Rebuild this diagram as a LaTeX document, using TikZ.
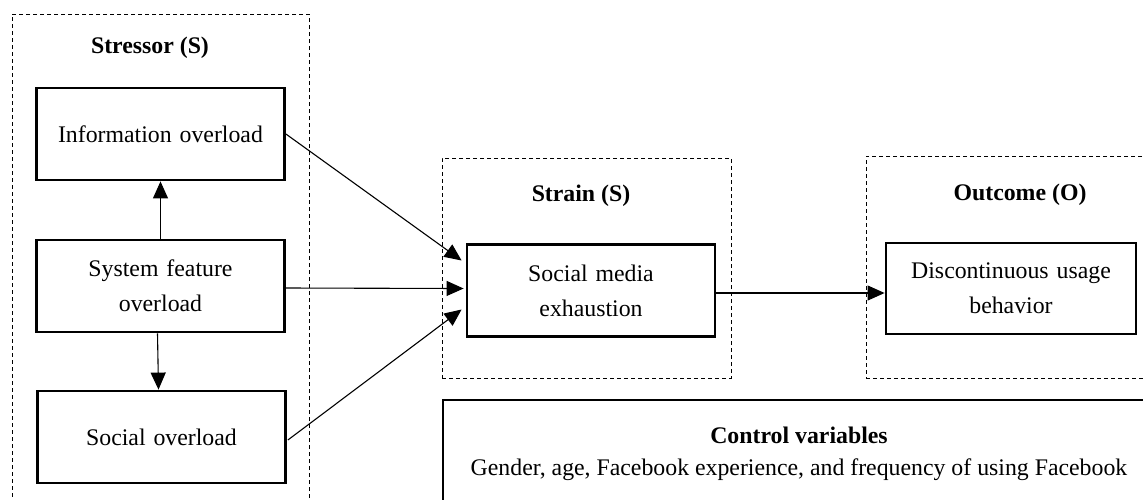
\documentclass[tikz,border=0pt]{standalone}
\usepackage{fontspec}
\setmainfont{Liberation Serif}
\usetikzlibrary{arrows.meta,calc}
\begin{document}
\begin{tikzpicture}[x=1pt,y=-1pt,
  font=\fontsize{23.8}{35}\selectfont,
  group/.style={draw,dashed,dash pattern=on 4pt off 3pt,line width=0.9pt,inner sep=0pt},
  varbox/.style={draw,line width=2.8pt,inner sep=0pt,align=center,text width=240pt},
  ctrlbox/.style={draw,line width=2pt,inner sep=0pt},
  title/.style={font=\fontsize{23.8}{35}\selectfont\bfseries,inner sep=0pt},
  link/.style={line width=1.1pt,-{Triangle[length=17pt,width=15pt]}}]
\useasboundingbox (0,0) rectangle (1143,499);
\clip (0,0) rectangle (1143,499);
% groups
\node[group,minimum width=297pt,minimum height=530pt] (gS) at (160.5,279) {};
\node[group,minimum width=289pt,minimum height=220pt] (gT) at (586.5,268) {};
\node[group,minimum width=300pt,minimum height=222pt] (gO) at (1016,267) {};
\node[ctrlbox,minimum width=712pt,minimum height=140pt] (ctrl) at (799,470) {};
% titles
\node[title] (tS) at (150,48) {Stressor (S)};
\node[title] (tT) at (581,196) {Strain (S)};
\node[title] (tO) at (1020,195) {Outcome (O)};
% variables
\node[varbox,minimum width=248pt,minimum height=92pt] (info) at (160.5,134) {Information overload};
\node[varbox,minimum width=248pt,minimum height=92pt] (sys) at (160.5,286) {System feature\\overload};
\node[varbox,minimum width=248pt,minimum height=92pt] (soc) at (161.5,437) {Social overload};
\node[varbox,minimum width=248pt,minimum height=92pt] (exh) at (591,290.5) {Social media\\exhaustion};
\node[varbox,minimum width=250pt,minimum height=91pt] (dis) at (1011,288.5) {Discontinuous usage\\behavior};
% control text
\node[title] (ctitle) at (799,435) {Control variables};
\node[inner sep=0pt] (ctext) at (799,470) {Gender, age, Facebook experience, and frequency of using Facebook};
% arrows
\draw[link] (sys.north) -- (info.south);
\draw[link] ([xshift=-3pt]sys.south) -- ([xshift=-3pt]soc.north);
\coordinate (s2) at ($(sys.east)+(0,2)$);
\coordinate (s3) at ($(soc.east)+(1,3)$);
\coordinate (e1) at ($(exh.west)+(-4,-30)$);
\coordinate (e2) at ($(exh.west)+(-2,-2)$);
\coordinate (e3) at ($(exh.west)+(-4,19)$);
\coordinate (x1) at ($(exh.east)+(0,2.5)$);
\coordinate (d1) at (dis.west |- x1);
\draw[link] (info.east) -- (e1);
\draw[link] (s2) -- (e2);
\draw[link] (s3) -- (e3);
\draw[link] (x1) -- (d1);
\end{tikzpicture}
\end{document}
